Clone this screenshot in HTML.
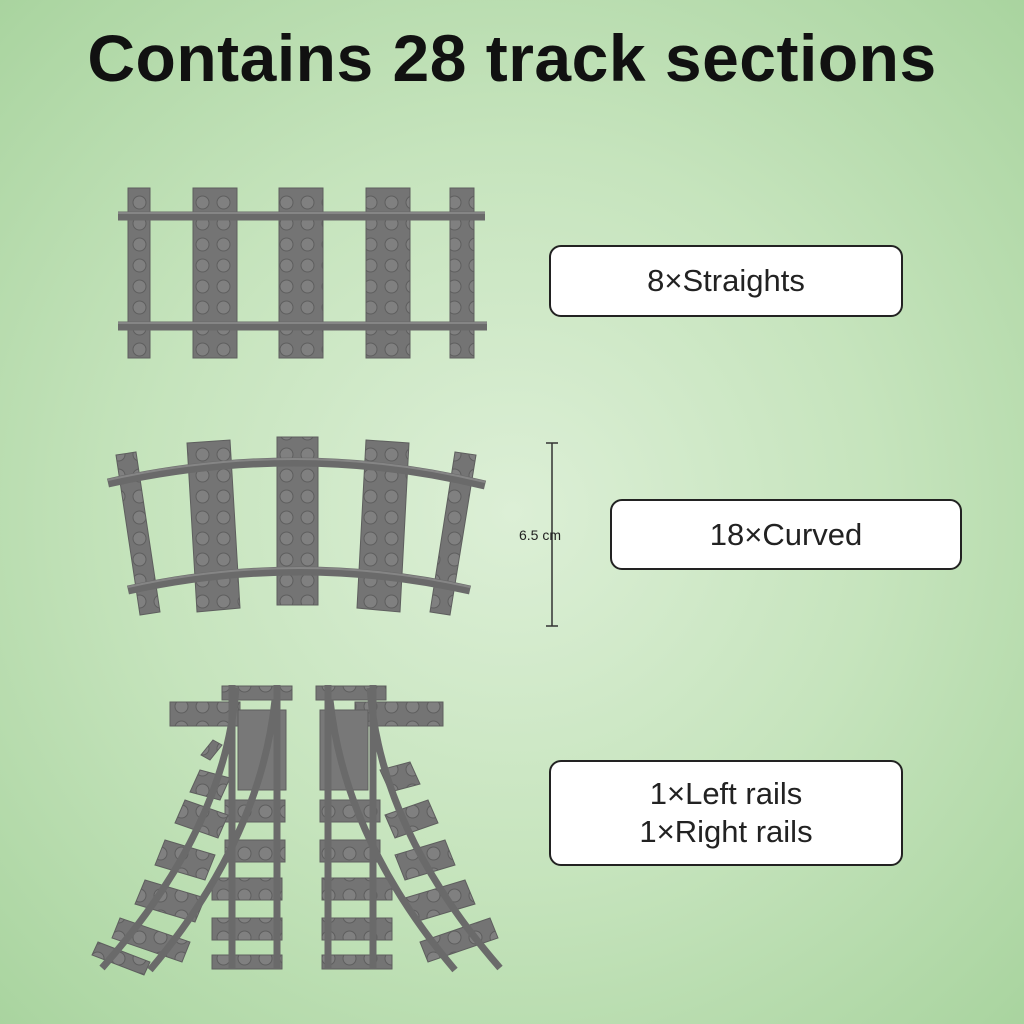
<!DOCTYPE html>
<html><head><meta charset="utf-8"><style>
html,body{margin:0;padding:0}
body{width:1024px;height:1024px;overflow:hidden;position:relative;background:radial-gradient(ellipse at 50% 50%,#dcefd6 0%,#c6e4bd 50%,#a9d49f 100%);font-family:"Liberation Sans",sans-serif}
h1{position:absolute;top:20px;left:0;width:1024px;text-align:center;margin:0;font-size:66px;font-weight:bold;color:#111;letter-spacing:0.5px}
.box{position:absolute;background:#fff;border:2px solid #222;border-radius:12px;box-sizing:border-box;display:flex;align-items:center;justify-content:center;text-align:center;font-size:31px;color:#222;line-height:38px}
svg{position:absolute;left:0;top:0}
</style></head><body>
<h1>Contains 28 track sections</h1>
<svg width="1024" height="1024" viewBox="0 0 1024 1024">
<defs>
<pattern id="st" width="21" height="21" patternUnits="userSpaceOnUse" x="3" y="3">
<rect width="21" height="21" fill="#747474"/><circle cx="10.5" cy="10.5" r="6.5" fill="#808080" stroke="#5e5e5e" stroke-width="1"/>
</pattern>
</defs>
<g fill="url(#st)" stroke="#5e5e5e" stroke-width="1">
<rect x="128" y="188" width="22" height="170"/>
<rect x="193" y="188" width="44" height="170"/>
<rect x="279" y="188" width="44" height="170"/>
<rect x="366" y="188" width="44" height="170"/>
<rect x="450" y="188" width="24" height="170"/>
<polygon points="116,455 136,452 160,612 140,615" />
<polygon points="187,443 230,440 240,608 197,612"/>
<polygon points="277,437 318,437 318,605 277,605"/>
<polygon points="366,440 409,443 400,612 357,608"/>
<polygon points="455,452 476,455 450,615 430,612"/>
</g>
<g stroke="#6a6a6a" stroke-width="9" fill="none" stroke-linecap="butt">
<line x1="118" y1="216" x2="485" y2="216"/>
<line x1="118" y1="326" x2="487" y2="326"/>
<path d="M108,483 Q300,440 485,485"/>
<path d="M128,590 Q300,552 470,590"/>
</g>
<g stroke="#858585" stroke-width="2" fill="none">
<line x1="118" y1="213" x2="485" y2="213"/>
<line x1="118" y1="323" x2="487" y2="323"/>
<path d="M108,480 Q300,437 485,482"/>
<path d="M128,587 Q300,549 470,587"/>
</g>
<g fill="url(#st)" stroke="#5e5e5e" stroke-width="1">
<rect x="170" y="702" width="70" height="24"/>
<rect x="222" y="686" width="70" height="14"/>
<rect x="238" y="710" width="48" height="80" fill="#787878"/>
<rect x="212" y="878" width="70" height="22"/>
<rect x="212" y="918" width="70" height="22"/>
<rect x="212" y="955" width="70" height="14"/>
<rect x="225" y="800" width="60" height="22"/>
<rect x="225" y="840" width="60" height="22"/>
<polygon points="213,740 222,745 210,760 201,755"/>
<polygon points="200,770 230,778 220,800 190,792"/>
<polygon points="185,800 228,815 218,838 175,823"/>
<polygon points="165,840 215,855 205,880 155,865"/>
<polygon points="145,880 205,898 195,922 135,904"/>
<polygon points="120,918 190,942 182,962 112,938"/>
<polygon points="98,942 150,962 144,975 92,955"/>
<rect x="355" y="702" width="88" height="24"/>
<rect x="316" y="686" width="70" height="14"/>
<rect x="320" y="710" width="48" height="80" fill="#787878"/>
<rect x="322" y="878" width="70" height="22"/>
<rect x="322" y="918" width="70" height="22"/>
<rect x="322" y="955" width="70" height="14"/>
<rect x="320" y="800" width="60" height="22"/>
<rect x="320" y="840" width="60" height="22"/>
<polygon points="380,770 410,762 420,784 390,792"/>
<polygon points="385,815 428,800 438,823 395,838"/>
<polygon points="395,855 445,840 455,865 405,880"/>
<polygon points="405,898 465,880 475,904 415,922"/>
<polygon points="420,942 490,918 498,938 428,962"/>
</g>
<g stroke="#6a6a6a" stroke-width="7" fill="none">
<line x1="232" y1="685" x2="232" y2="968"/>
<line x1="277" y1="685" x2="277" y2="968"/>
<path d="M236,688 Q225,830 102,968"/>
<path d="M275,700 Q260,840 150,970"/>
<line x1="328" y1="685" x2="328" y2="968"/>
<line x1="373" y1="685" x2="373" y2="968"/>
<path d="M330,700 Q345,840 455,970"/>
<path d="M370,688 Q380,830 500,968"/>
</g>
<g stroke="#333" stroke-width="1.5">
<line x1="552" y1="443" x2="552" y2="626"/>
<line x1="546" y1="443" x2="558" y2="443"/>
<line x1="546" y1="626" x2="558" y2="626"/>
</g>
<text x="519" y="540" font-family="Liberation Sans,sans-serif" font-size="14" fill="#222">6.5 cm</text>
</svg>
<div class="box" style="left:549px;top:245px;width:354px;height:72px">8×Straights</div>
<div class="box" style="left:610px;top:499px;width:352px;height:71px">18×Curved</div>
<div class="box" style="left:549px;top:760px;width:354px;height:106px">1×Left rails<br>1×Right rails</div>
</body></html>
